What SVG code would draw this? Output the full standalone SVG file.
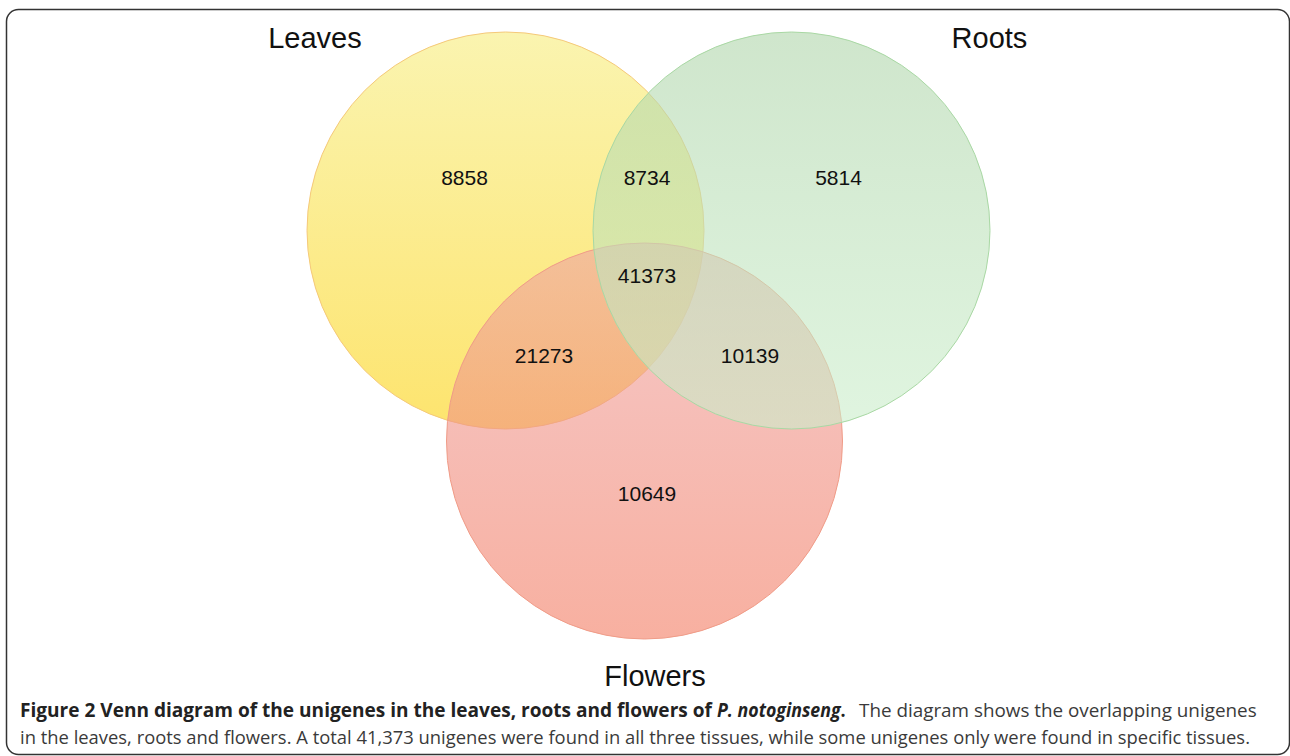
<svg xmlns="http://www.w3.org/2000/svg" width="1290" height="756" viewBox="0 0 1290 756">
  <defs>
    <linearGradient id="gLeaves" x1="0" y1="0" x2="0" y2="1">
      <stop offset="0" stop-color="#F7ED7B"/>
      <stop offset="1" stop-color="#FCD20D"/>
    </linearGradient>
    <linearGradient id="gRoots" x1="0" y1="0" x2="0" y2="1">
      <stop offset="0" stop-color="#AFD5AA"/>
      <stop offset="1" stop-color="#CBEECB"/>
    </linearGradient>
    <linearGradient id="gFlowers" x1="0" y1="0" x2="0" y2="1">
      <stop offset="0" stop-color="#EEA3A3"/>
      <stop offset="1" stop-color="#F37B61"/>
    </linearGradient>
  </defs>
  <style>
    .set { fill-opacity: 0.6; stroke-width: 1; }
    .lbl { font-family: "Liberation Sans", Arial, sans-serif; font-size: 29px; fill: #111; text-anchor: middle; }
    .num { font-family: "Liberation Sans", Arial, sans-serif; font-size: 21px; fill: #111; text-anchor: middle; }
    .cap { font-family: "Open Sans", "Noto Sans", sans-serif; font-size: 19px; }
    .b { font-weight: bold; fill: #222; }
    .it { font-style: italic; }
    .up { font-style: normal; }
    .r { fill: #3a3a3a; }
  </style>
  <rect width="1290" height="756" fill="#fff"/>
  <rect x="6.5" y="9.5" width="1283" height="745" rx="12" ry="12" fill="none" stroke="#333" stroke-width="1.5"/>

  <g id="leaves">
    <circle class="set" cx="505.5" cy="230.5" r="198.5" fill="url(#gLeaves)" stroke="#F5C97A"/>
    <text class="lbl" x="315" y="48">Leaves</text>
  </g>
  <g id="flowers">
    <circle class="set" cx="644.5" cy="441" r="198" fill="url(#gFlowers)" stroke="#F09C88"/>
    <text class="lbl" x="655" y="686">Flowers</text>
  </g>
  <g id="roots">
    <circle class="set" cx="791.5" cy="230.5" r="198.5" fill="url(#gRoots)" stroke="#A9D8A4"/>
    <text class="lbl" x="989.5" y="48">Roots</text>
  </g>

  <g id="counts">
    <text class="num" x="464.5" y="184.5">8858</text>
    <text class="num" x="647" y="184.5">8734</text>
    <text class="num" x="838.5" y="184.5">5814</text>
    <text class="num" x="647" y="282.5">41373</text>
    <text class="num" x="544" y="362.5">21273</text>
    <text class="num" x="750" y="362.5">10139</text>
    <text class="num" x="647" y="500.5">10649</text>
  </g>

  <g id="caption" class="cap">
    <text class="b" transform="translate(20 717) scale(0.85 1)" x="0" y="0" textLength="814" lengthAdjust="spacingAndGlyphs">Figure 2 Venn diagram of the unigenes in the leaves, roots and flowers of</text>
    <text class="b" transform="translate(717 717) scale(0.9 1)" x="0" y="0" textLength="143" lengthAdjust="spacingAndGlyphs"><tspan class="it">P. notoginseng</tspan><tspan class="up">.</tspan></text>
    <text class="r" transform="translate(859 717) scale(0.94 1)" x="0" y="0" textLength="423" lengthAdjust="spacingAndGlyphs">The diagram shows the overlapping unigenes</text>
    <text class="r" transform="translate(20 744) scale(0.89 1)" x="0" y="0" textLength="1382" lengthAdjust="spacingAndGlyphs">in the leaves, roots and flowers. A total 41,373 unigenes were found in all three tissues, while some unigenes only were found in specific tissues.</text>
  </g>
</svg>
